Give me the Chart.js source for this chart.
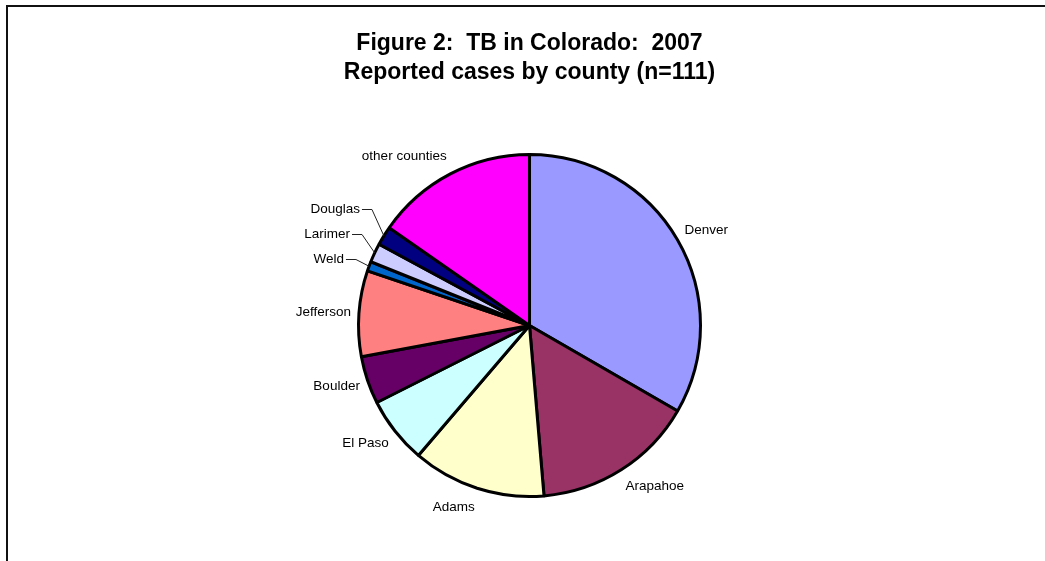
<!DOCTYPE html>
<html>
<head>
<meta charset="utf-8">
<title>TB in Colorado 2007</title>
<script src="https://cdn.jsdelivr.net/npm/chart.js@4/dist/chart.umd.min.js"></script>
<style>
  html, body { margin: 0; padding: 0; background: #fff; }
  #wrap { width: 1045px; height: 561px; position: relative; }
</style>
</head>
<body>
<div id="wrap"><canvas id="myChart" width="1045" height="561"></canvas></div>
<script>
  const counties = ['Denver', 'Arapahoe', 'Adams', 'El Paso', 'Boulder', 'Jefferson', 'Weld', 'Larimer', 'Douglas', 'other counties'];
  const cases = [37, 17, 14, 7, 5, 9, 1, 2, 2, 17];
  const sliceColors = ['#9999FF', '#993366', '#FFFFCC', '#CCFFFF', '#660066', '#FF8080', '#0066CC', '#CCCCFF', '#000080', '#FF00FF'];
  const titleLines = ['Figure 2:  TB in Colorado:  2007', 'Reported cases by county (n=111)'];

  const FONT = "'Liberation Sans', Arial, sans-serif";

  // frame, title and the outside labels (with leader lines for the thin slices)
  const decorations = {
    id: 'decorations',
    beforeDraw(chart) {
      const ctx = chart.ctx;
      ctx.save();
      ctx.strokeStyle = '#111';
      ctx.lineWidth = 2;
      ctx.strokeRect(7, 6, chart.width + 20, chart.height + 20);
      ctx.restore();
    },
    afterDatasetsDraw(chart) {
      const ctx = chart.ctx;
      const arcs = chart.getDatasetMeta(0).data;
      const total = cases.reduce((a, b) => a + b, 0);

      ctx.save();
      ctx.fillStyle = '#000';
      ctx.textAlign = 'center';
      ctx.textBaseline = 'alphabetic';
      ctx.font = 'bold 23px ' + FONT;
      const cx0 = (chart.chartArea.left + chart.chartArea.right) / 2;
      ctx.fillText(titleLines[0], cx0, 50);
      ctx.fillText(titleLines[1], cx0, 79);

      ctx.font = '13.5px ' + FONT;
      ctx.textBaseline = 'middle';
      let lastSmallY = null;
      arcs.forEach((arc, i) => {
        const p = arc.getProps(['x', 'y', 'startAngle', 'endAngle', 'outerRadius'], true);
        const mid = (p.startAngle + p.endAngle) / 2;
        const dx = Math.cos(mid), dy = Math.sin(mid);
        const r = p.outerRadius;
        const txt = counties[i];
        if (cases[i] / total < 0.025) {
          let ly = p.y + dy * (r + 12) + dy * 7.5;
          if (lastSmallY !== null && ly > lastSmallY - 25) ly = lastSmallY - 25;
          lastSmallY = ly;
          const ex = p.x + dx * (r + 14);
          ctx.strokeStyle = '#222';
          ctx.lineWidth = 1;
          ctx.beginPath();
          ctx.moveTo(p.x + dx * r, p.y + dy * r);
          ctx.lineTo(ex, ly);
          ctx.lineTo(ex - 10, ly);
          ctx.stroke();
          ctx.textAlign = 'right';
          ctx.fillText(txt, ex - 12, ly);
        } else {
          const lx = p.x + dx * (r + 8);
          const ly = p.y + dy * (r + 12) + dy * 7.5;
          ctx.textAlign = dx < 0 ? 'right' : 'left';
          ctx.fillText(txt, lx, ly);
        }
      });
      ctx.restore();
    }
  };

  const ctx = document.getElementById('myChart').getContext('2d');
  const myChart = new Chart(ctx, {
    type: 'pie',
    data: {
      labels: counties,
      datasets: [{
        data: cases,
        backgroundColor: sliceColors,
        borderColor: '#000',
        borderWidth: 3
      }]
    },
    options: {
      responsive: false,
      animation: false,
      events: [],
      layout: {
        padding: { top: 153, bottom: 63, left: 357, right: 343 }
      },
      plugins: {
        legend: { display: false },
        title: { display: false },
        tooltip: { enabled: false }
      }
    },
    plugins: [decorations]
  });
</script>
</body>
</html>
